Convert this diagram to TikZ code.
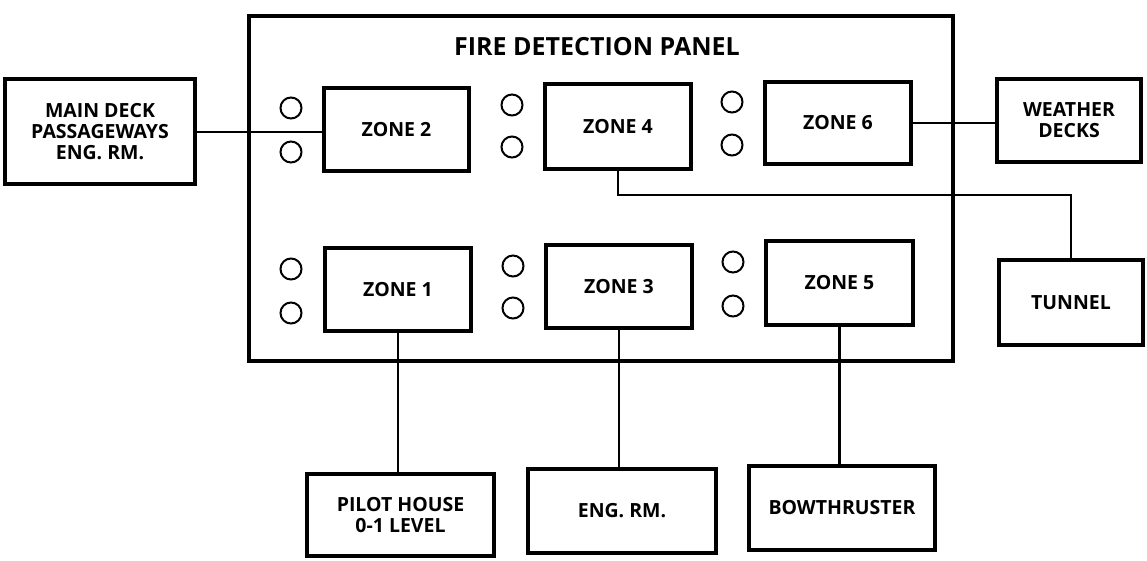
\documentclass[tikz,border=0pt]{standalone}
\usepackage{fontspec}
\setmainfont{Open Sans}
\begin{document}
\begin{tikzpicture}[x=1pt,y=-1pt,
  box/.style={draw, line width=4pt, inner sep=0pt, align=center, font=\fontsize{19.5}{21}\selectfont\bfseries},
  lamp/.style={draw, circle, line width=2pt, minimum size=21pt, inner sep=0pt},
  wire/.style={line width=2.2pt},
  ]
\useasboundingbox (0,0) rectangle (1147,561);
% panel
\node[draw, line width=4.5pt, minimum width=704pt, minimum height=345pt, inner sep=0pt] (panel) at (601,188.5) {};
\node[font=\fontsize{25}{28}\selectfont\bfseries] (title) at (597,47) {FIRE DETECTION PANEL};
% zones
\node[box, minimum width=145pt, minimum height=83pt] (z2) at (396.5,129.5) {ZONE 2};
\node[box, minimum width=146pt, minimum height=85pt] (z4) at (618,126.5) {ZONE 4};
\node[box, minimum width=146pt, minimum height=82pt] (z6) at (838,123) {ZONE 6};
\node[box, minimum width=146pt, minimum height=83pt] (z1) at (398,289.5) {ZONE 1};
\node[box, minimum width=146pt, minimum height=83pt] (z3) at (619,286.5) {ZONE 3};
\node[box, minimum width=147pt, minimum height=84pt] (z5) at (839.5,283) {ZONE 5};
% lamps
\node[lamp] (l2a) at (291,108) {};
\node[lamp] (l2b) at (291,152) {};
\node[lamp] (l4a) at (512,105) {};
\node[lamp] (l4b) at (512,147) {};
\node[lamp] (l6a) at (732,102) {};
\node[lamp] (l6b) at (732,145) {};
\node[lamp] (l1a) at (291,269) {};
\node[lamp] (l1b) at (291,313) {};
\node[lamp] (l3a) at (513,266) {};
\node[lamp] (l3b) at (513,308) {};
\node[lamp] (l5a) at (733,262) {};
\node[lamp] (l5b) at (733,306) {};
% outer boxes
\node[box, minimum width=190pt, minimum height=105pt] (md) at (100,132) {MAIN DECK\\PASSAGEWAYS\\ENG. RM.};
\node[box, minimum width=144pt, minimum height=83pt] (wd) at (1069,120.5) {WEATHER\\DECKS};
\node[box, minimum width=144pt, minimum height=85pt] (tun) at (1071,302.5) {TUNNEL};
\node[box, minimum width=187pt, minimum height=82pt] (ph) at (400.5,515) {PILOT HOUSE\\0-1 LEVEL};
\node[box, minimum width=188pt, minimum height=84pt] (er) at (622,511) {ENG. RM.};
\node[box, minimum width=186pt, minimum height=84pt] (bt) at (842,508) {BOWTHRUSTER};
% wires
\draw[wire] (md.east) -- (md.east -| z2.west);
\draw[wire] (z6.east) -- (z6.east -| wd.west);
\draw[wire] (z4.south) -- ++(0,24) -| (tun.north);
\draw[wire] (z1.south) -- (z1.south |- ph.north);
\draw[wire] (z3.south) -- (z3.south |- er.north);
\draw[wire] (z5.south) -- (z5.south |- bt.north);
\end{tikzpicture}
\end{document}
